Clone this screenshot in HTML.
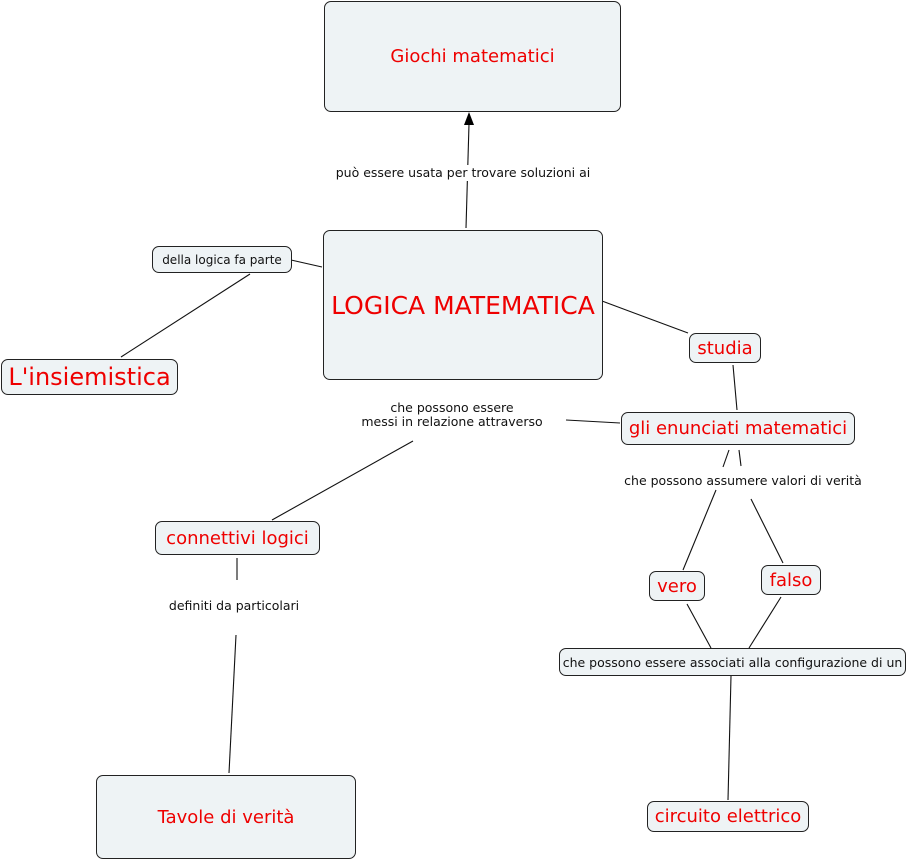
<!DOCTYPE html>
<html><head><meta charset="utf-8"><style>
body{margin:0;width:907px;height:861px;background:#fff;position:relative;overflow:hidden;font-family:"DejaVu Sans","Liberation Sans",sans-serif}
.b{position:absolute;box-sizing:border-box;background:#eef3f5;border:1px solid #222;border-radius:7px;display:flex;align-items:center;justify-content:center;color:#e00;white-space:nowrap}
.l{color:#111;font-size:12.5px}
.t{position:absolute;font-size:12.5px;color:#111;white-space:nowrap;text-align:center;transform:translateX(-50%);line-height:14px;background:#fff;padding:1px 2px}
svg{position:absolute;left:0;top:0}
</style></head><body>
<svg width="907" height="861"><g stroke="#111" stroke-width="1.1" fill="none">
<line x1="466" y1="228" x2="469" y2="124"/>
<line x1="291" y1="260" x2="322" y2="267"/>
<line x1="250" y1="274" x2="121" y2="357"/>
<line x1="602" y1="301" x2="688" y2="333"/>
<line x1="733" y1="365" x2="737" y2="410"/>
<line x1="566" y1="420" x2="620" y2="423"/>
<line x1="413" y1="441" x2="272" y2="520"/>
<line x1="729" y1="450" x2="723" y2="467"/>
<line x1="739" y1="450" x2="741" y2="466"/>
<line x1="716" y1="490" x2="683" y2="570"/>
<line x1="751" y1="499" x2="783" y2="563"/>
<line x1="687" y1="604" x2="711" y2="648"/>
<line x1="781" y1="597" x2="749" y2="648"/>
<line x1="731" y1="676" x2="728" y2="800"/>
<line x1="237" y1="558" x2="237" y2="580"/>
<line x1="236" y1="635" x2="229" y2="773"/>
</g><polygon points="469,112 464,125 474,125" fill="#000"/></svg>
<div class="b" style="left:324px;top:1px;width:297px;height:111px;font-size:18px">Giochi matematici</div>
<div class="b" style="left:323px;top:230px;width:280px;height:150px;font-size:25px">LOGICA MATEMATICA</div>
<div class="b l" style="left:152px;top:246px;width:140px;height:27px;font-size:12px">della logica fa parte</div>
<div class="b" style="left:1px;top:359px;width:177px;height:36px;font-size:24px">L'insiemistica</div>
<div class="b" style="left:689px;top:333px;width:72px;height:30px;font-size:18px">studia</div>
<div class="b" style="left:621px;top:412px;width:234px;height:33px;font-size:18px">gli enunciati matematici</div>
<div class="b" style="left:155px;top:521px;width:165px;height:34px;font-size:18px">connettivi logici</div>
<div class="b" style="left:649px;top:571px;width:56px;height:30px;font-size:18px">vero</div>
<div class="b" style="left:761px;top:565px;width:60px;height:30px;font-size:18px">falso</div>
<div class="b l" style="left:559px;top:648px;width:347px;height:28px">che possono essere associati alla configurazione di un</div>
<div class="b" style="left:647px;top:801px;width:162px;height:31px;font-size:18px">circuito elettrico</div>
<div class="b" style="left:96px;top:775px;width:260px;height:84px;font-size:18px">Tavole di verità</div>
<div class="t" style="left:463px;top:165px">può essere usata per trovare soluzioni ai</div>
<div class="t" style="left:452px;top:400px">che possono essere<br>messi in relazione attraverso</div>
<div class="t" style="left:743px;top:473px">che possono assumere valori di verità</div>
<div class="t" style="left:234px;top:598px">definiti da particolari</div>
</body></html>
